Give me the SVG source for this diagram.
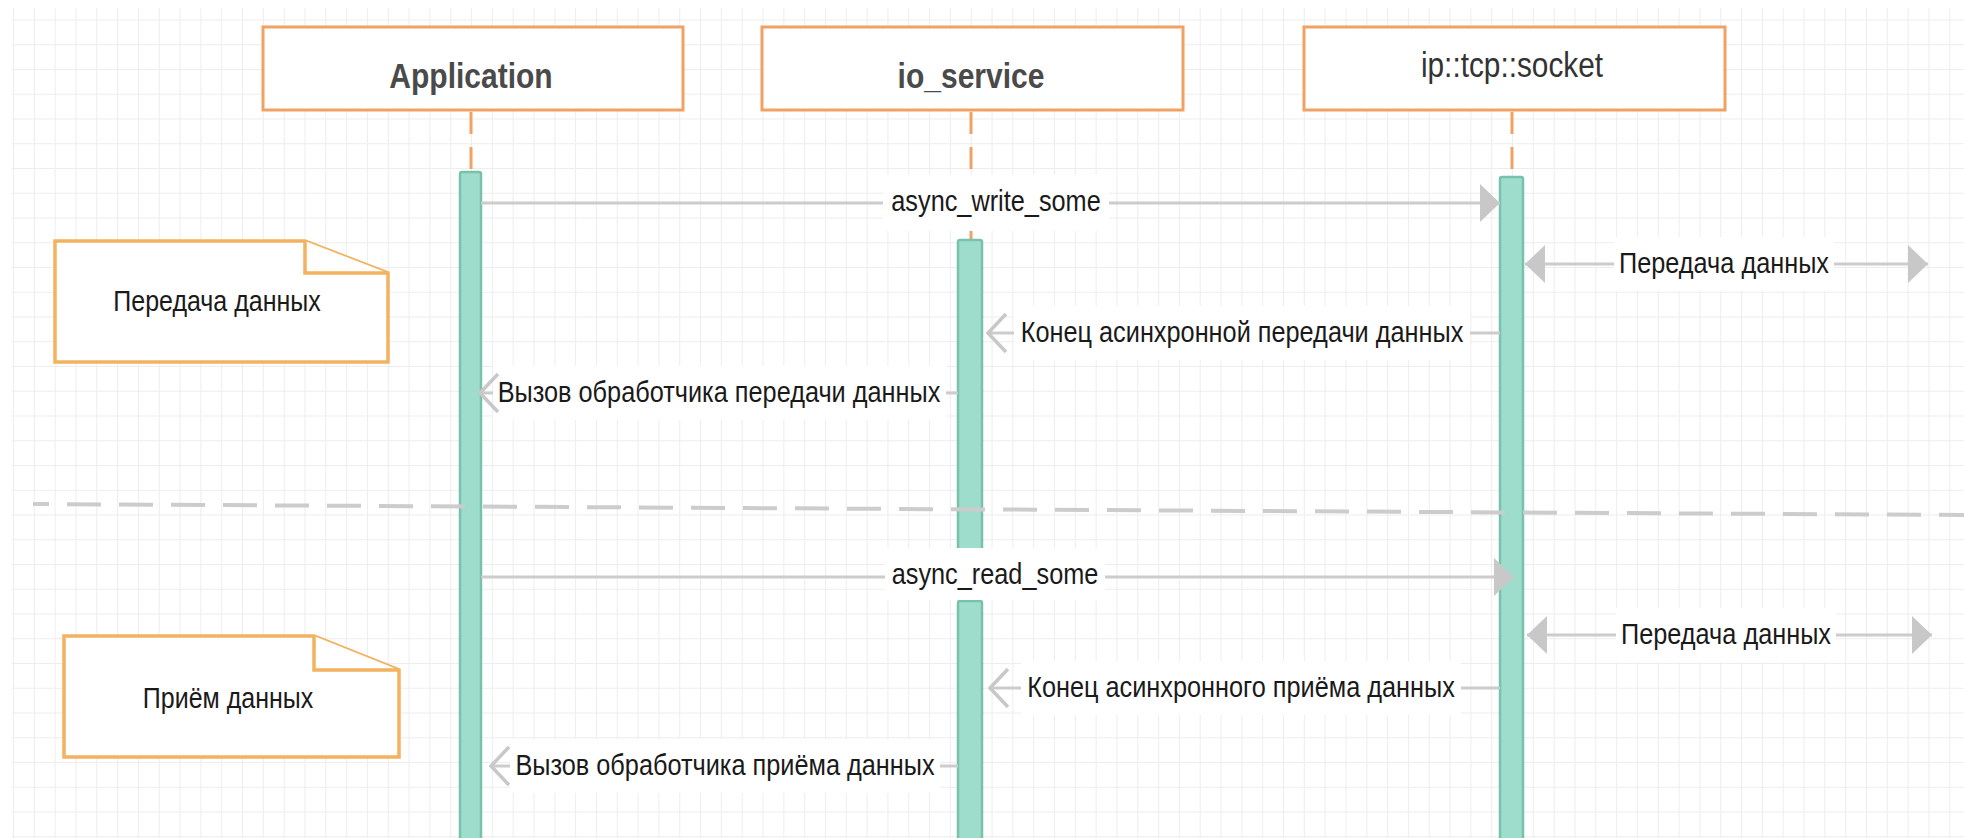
<svg xmlns="http://www.w3.org/2000/svg" width="1964" height="838" viewBox="0 0 1964 838">
<style>
.box{fill:#fff;stroke:#F0A264;stroke-width:3}
.note{fill:#fff;stroke:#F2B25F;stroke-width:3.5;stroke-linejoin:miter}
.life{stroke:#F0A264;stroke-width:3;stroke-dasharray:22 13;fill:none}
.bar{fill:#9EDCCB;stroke:#77C2AC;stroke-width:2.5}
.msg{stroke:#CCCCCC;stroke-width:3;fill:none}
.lblbg{fill:#fff}
.t{font-family:"Liberation Sans",Arial,sans-serif;text-anchor:middle}
.lbl{font-size:25.3px;fill:#1a1a1a}
.title{font-size:30px;font-weight:bold;fill:#4a4a4a}
.title2{font-size:29.8px;fill:#333}
.sep{stroke:#CCCCCC;stroke-width:4;stroke-dasharray:34 18;stroke-dashoffset:18;fill:none}
</style>
<defs>
<pattern id="grid" x="13" y="19.5" width="20.82" height="24.75" patternUnits="userSpaceOnUse">
<path d="M0 0.5H20.82M0.5 0V24.75" stroke="#EDEDED" stroke-width="1" fill="none"/>
</pattern>
<marker id="tri" viewBox="0 0 20 38" refX="20" refY="19" markerWidth="20" markerHeight="38" markerUnits="userSpaceOnUse" orient="auto">
<path d="M0 0L20 19L0 38Z" fill="#C8C8C8"/>
</marker>
<marker id="chev" viewBox="0 0 22 42" refX="20" refY="21" markerWidth="22" markerHeight="42" markerUnits="userSpaceOnUse" orient="auto">
<path d="M2 2L20 21L2 40" fill="none" stroke="#C8C8C8" stroke-width="3.5"/>
</marker>
</defs>
<rect x="0" y="0" width="1964" height="838" fill="#fff"/>
<rect x="12" y="8" width="1952" height="830" fill="url(#grid)"/>

<g id="lifelines">
<line class="life" x1="471" y1="112" x2="471" y2="172"/>
<line class="life" x1="971" y1="112" x2="971" y2="240"/>
<line class="life" x1="1512" y1="112" x2="1512" y2="177"/>
</g>

<g id="node-application">
<rect class="box" x="263" y="27" width="420" height="83"/>
<text class="t title" transform="translate(471 88) scale(1 1.19)">Application</text>
</g>
<g id="node-io-service">
<rect class="box" x="762" y="27" width="421" height="83"/>
<text class="t title" transform="translate(971 88) scale(1 1.19)">io_service</text>
</g>
<g id="node-socket">
<rect class="box" x="1304" y="27" width="421" height="83"/>
<text class="t title2" transform="translate(1512 77) scale(1 1.19)">ip::tcp::socket</text>
</g>

<g id="activation-bars">
<rect class="bar" x="460" y="172" width="21" height="680" rx="2"/>
<rect class="bar" x="958" y="240" width="24" height="320" rx="2"/>
<rect class="bar" x="958" y="601" width="24" height="250" rx="2"/>
<rect class="bar" x="1500" y="177" width="23" height="680" rx="2"/>
</g>

<g id="note-send">
<path class="note" d="M55 241H305L388 273V362H55Z"/>
<path class="note" d="M305 241V273H388"/>
<text class="t lbl" transform="translate(217 311) scale(1 1.19)" style="font-size:25px">Передача данных</text>
</g>
<g id="note-receive">
<path class="note" d="M64 636H314L399 670V757H64Z"/>
<path class="note" d="M314 636V670H399"/>
<text class="t lbl" transform="translate(228 708) scale(1 1.19)" style="font-size:25px">Приём данных</text>
</g>

<g id="separator">
<line class="sep" x1="33" y1="504" x2="1964" y2="515"/>
</g>

<g id="connectors">
<!-- async_write_some -->
<rect class="lblbg" x="883" y="175" width="226" height="56"/>
<path class="msg" d="M481 203H883"/>
<path class="msg" d="M1109 203H1500" marker-end="url(#tri)"/>
<text class="t lbl" transform="translate(996 211) scale(1 1.19)">async_write_some</text>

<!-- Передача данных 1 -->
<rect class="lblbg" x="1614" y="237" width="220" height="54"/>
<path class="msg" d="M1614 264H1525" marker-end="url(#tri)"/>
<path class="msg" d="M1834 264H1928" marker-end="url(#tri)"/>
<text class="t lbl" transform="translate(1724 272.5) scale(1 1.19)">Передача данных</text>

<!-- Конец асинхронной передачи данных -->
<rect class="lblbg" x="1014" y="306" width="456" height="54"/>
<path class="msg" d="M1500 333H1470"/>
<path class="msg" d="M1014 333H988" marker-end="url(#chev)"/>
<text class="t lbl" transform="translate(1242 341.5) scale(1 1.19)">Конец асинхронной передачи данных</text>

<!-- Вызов обработчика передачи данных -->
<rect class="lblbg" x="493" y="366" width="453" height="54"/>
<path class="msg" d="M958 393H946"/>
<path class="msg" d="M493 393H480" marker-end="url(#chev)"/>
<text class="t lbl" transform="translate(719 401.5) scale(1 1.19)">Вызов обработчика передачи данных</text>

<!-- async_read_some -->
<rect class="lblbg" x="885" y="548" width="220" height="52"/>
<path class="msg" d="M481 577H885"/>
<path class="msg" d="M1105 577H1514" marker-end="url(#tri)"/>
<text class="t lbl" transform="translate(995 584) scale(1 1.19)">async_read_some</text>

<!-- Передача данных 2 -->
<rect class="lblbg" x="1616" y="608" width="220" height="54"/>
<path class="msg" d="M1616 635H1527" marker-end="url(#tri)"/>
<path class="msg" d="M1836 635H1932" marker-end="url(#tri)"/>
<text class="t lbl" transform="translate(1726 643.5) scale(1 1.19)">Передача данных</text>

<!-- Конец асинхронного приёма данных -->
<rect class="lblbg" x="1021" y="661" width="440" height="54"/>
<path class="msg" d="M1500 688H1461"/>
<path class="msg" d="M1021 688H990" marker-end="url(#chev)"/>
<text class="t lbl" transform="translate(1241 696.5) scale(1 1.19)">Конец асинхронного приёма данных</text>

<!-- Вызов обработчика приёма данных -->
<rect class="lblbg" x="510" y="739" width="430" height="54"/>
<path class="msg" d="M958 766H940"/>
<path class="msg" d="M510 766H491" marker-end="url(#chev)"/>
<text class="t lbl" transform="translate(725 774.5) scale(1 1.19)">Вызов обработчика приёма данных</text>
</g>
</svg>
